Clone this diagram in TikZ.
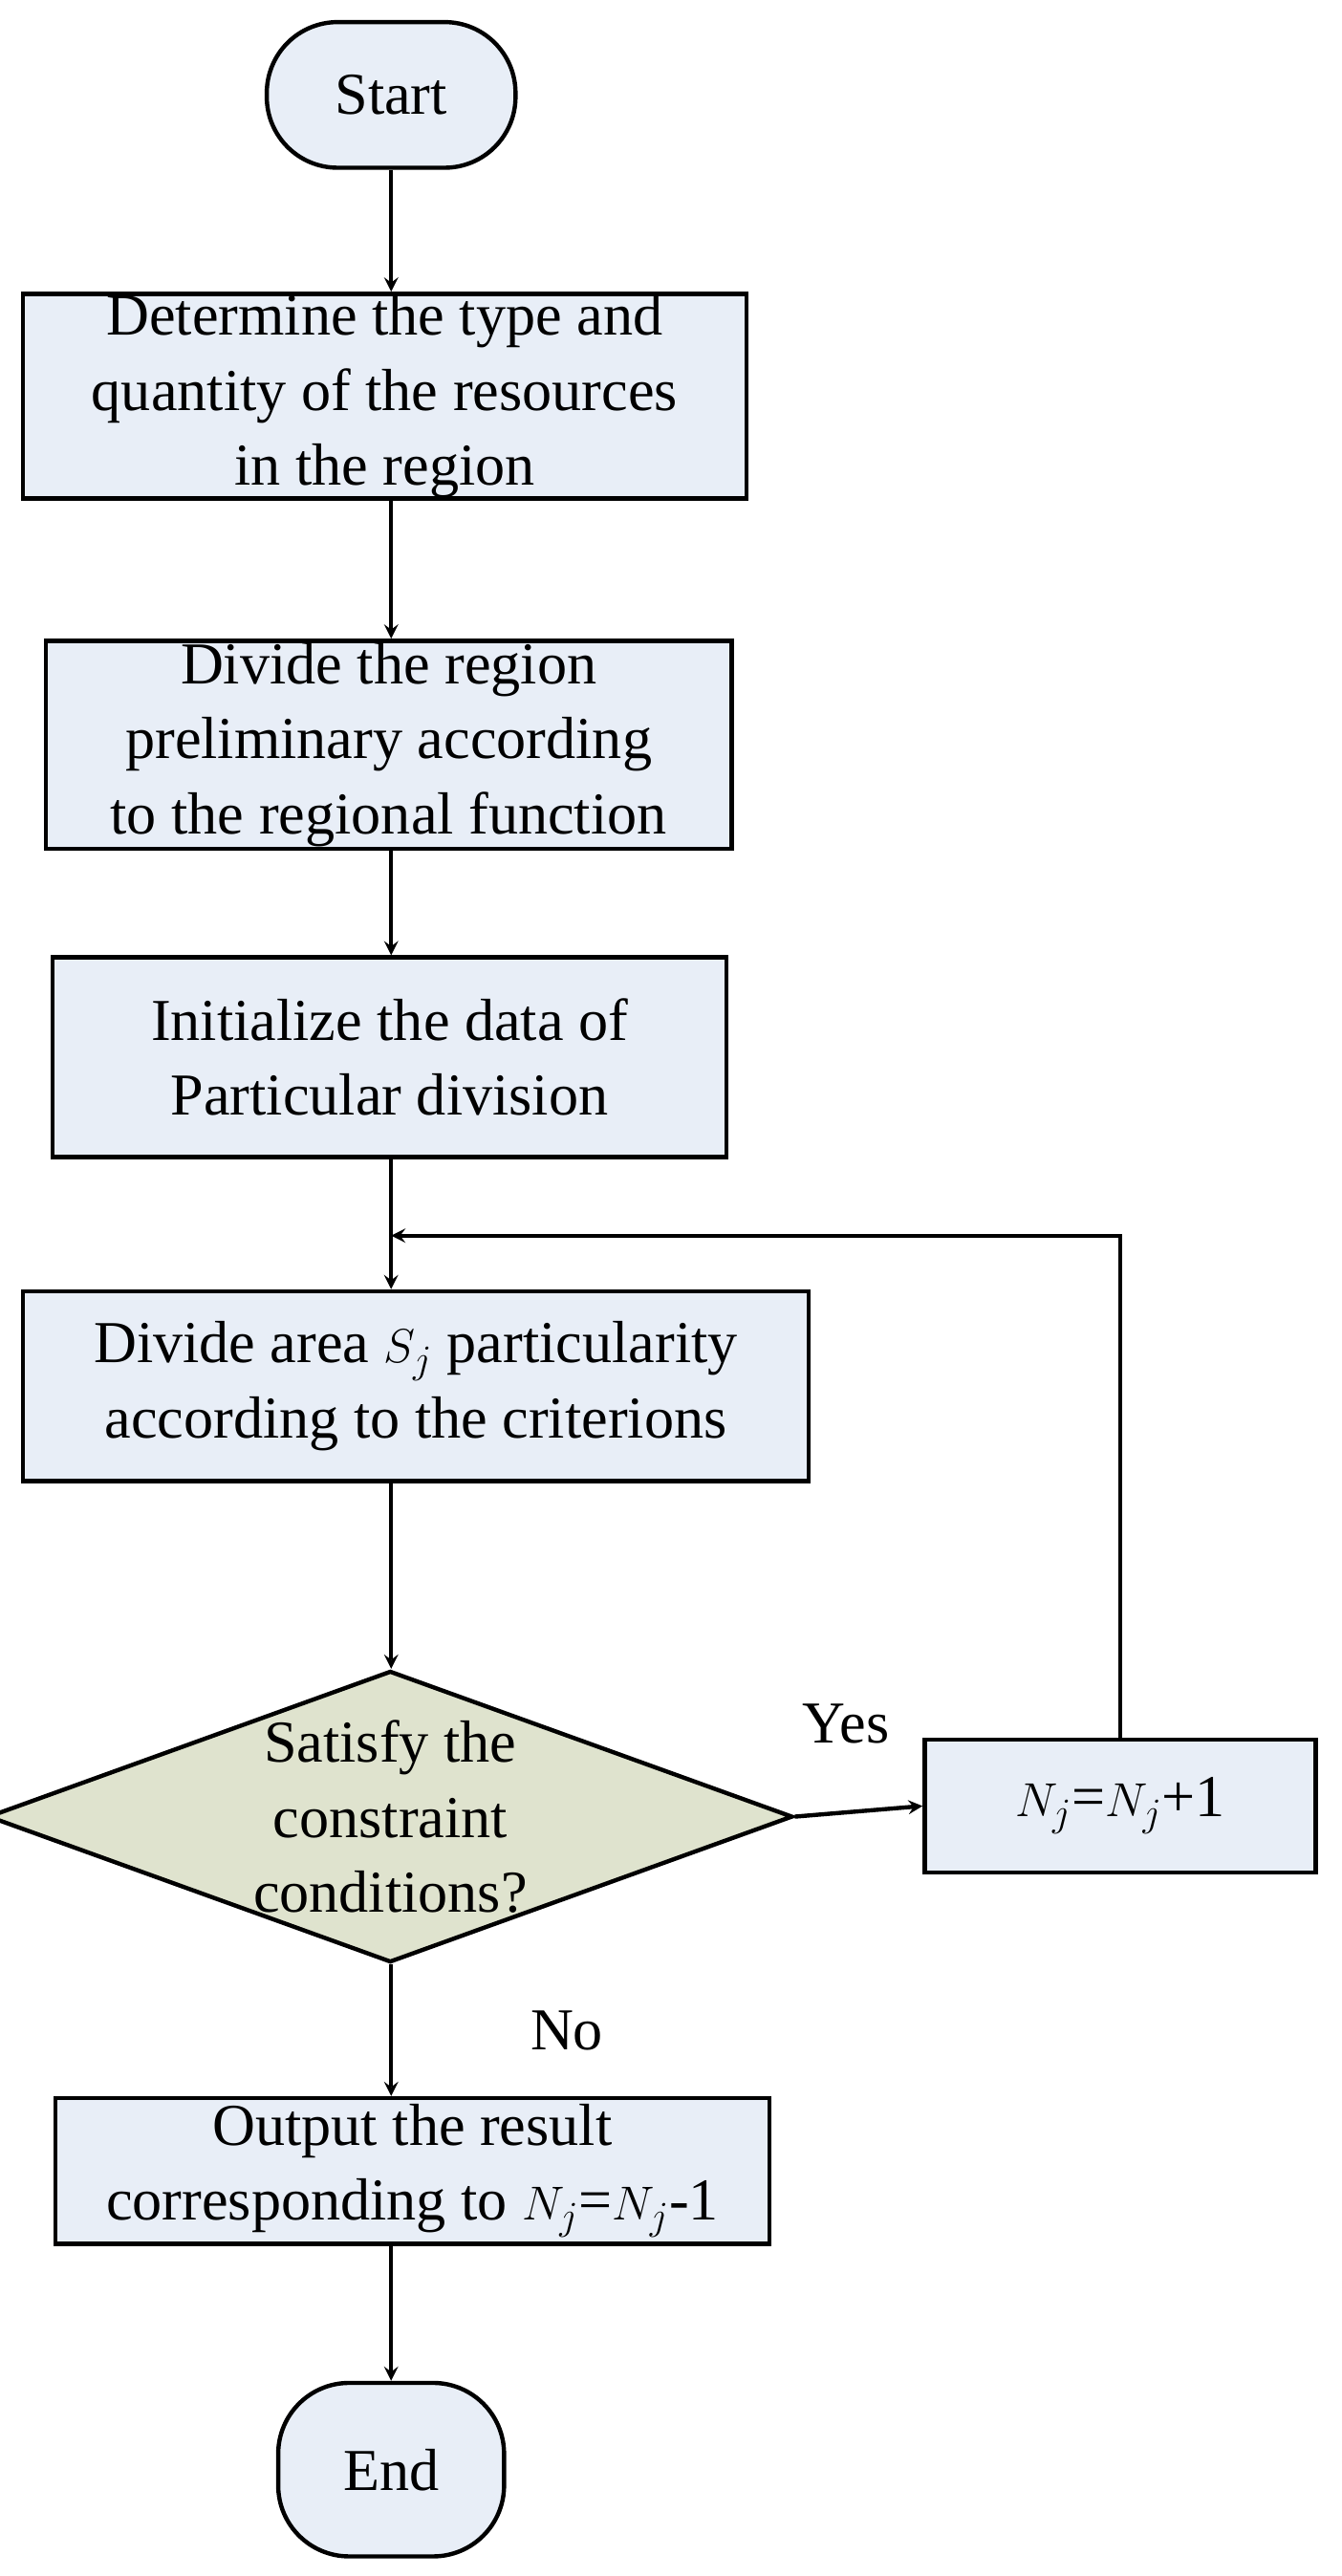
\documentclass[tikz,border=0pt]{standalone}
\usepackage{fontspec}
\setmainfont{Liberation Serif}
\usetikzlibrary{arrows}
\usetikzlibrary{shapes.geometric}
\tikzset{>=latex}
\definecolor{boxfill}{HTML}{E8EEF7}
\definecolor{decfill}{HTML}{DFE3CE}
\tikzset{
	proc/.style = {draw, fill = boxfill, line width = 2.2pt, align = center, inner sep = 0pt},
	term/.style = {proc, rounded corners = 1.3cm},
	flow/.style = {->, line width = 2.2pt, >=stealth}
}

\begin{document}
\begin{tikzpicture}[x = 0.03cm, y = -0.03cm, font = {\fontsize{31pt}{39pt}\selectfont}]
\useasboundingbox (0,0) rectangle (820,1574);

\node[term, minimum width = 4.56cm, minimum height = 2.67cm] (START) at (239, 58) {Start};
\node[proc, minimum width = 13.26cm, minimum height = 3.75cm] (TYPE) at (235, 242) {Determine the type and \\ quantity of the resources \\ in the region};
\node[proc, minimum width = 12.57cm, minimum height = 3.81cm] (PRE) at (237.5, 455) {Divide the region \\ preliminary according \\ to the regional function};
\node[proc, minimum width = 12.36cm, minimum height = 3.66cm] (INIT) at (238, 646) {Initialize the data of \\ Particular division};
\node[proc, minimum width = 14.4cm, minimum height = 3.48cm] (DIV) at (254, 847) {Divide area $S_j$ particularity \\ according to the criterions};
\node[proc, fill = decfill, diamond, aspect = 2.76, minimum width = 13.35cm, minimum height = 4.83cm] (SAT) at (238.5, 1110) {Satisfy the \\ constraint \\ conditions?};
\node[proc, minimum width = 7.17cm, minimum height = 2.43cm] (INC) at (684.5, 1103.5) {$N_j$=$N_j$+1};
\node[proc, minimum width = 13.08cm, minimum height = 2.67cm] (OUT) at (252, 1326.5) {Output the result \\ corresponding to $N_j$=$N_j$-1};
\node[term, minimum width = 4.14cm, minimum height = 3.18cm] (END) at (239, 1509) {End};

\coordinate (LOOP) at (239, 755);

\draw[flow] (START) -- (START |- TYPE.north);
\draw[flow] (TYPE.south -| START) -- (START |- PRE.north);
\draw[flow] (PRE.south -| START) -- (START |- INIT.north);
\draw[flow] (INIT.south -| START) -- (START |- DIV.north);
\draw[flow] (DIV.south -| START) -- (START |- SAT.north);
\draw[flow] (SAT.east) -- node[pos = 0.4, above = 1.1cm] {Yes} (INC.west);
\draw[flow] (INC.north) |- (LOOP);
\draw[flow] (SAT.south -| START) -- node[midway, right = 2.4cm] {No} (START |- OUT.north);
\draw[flow] (OUT.south -| START) -- (END);
\end{tikzpicture}
\end{document}
